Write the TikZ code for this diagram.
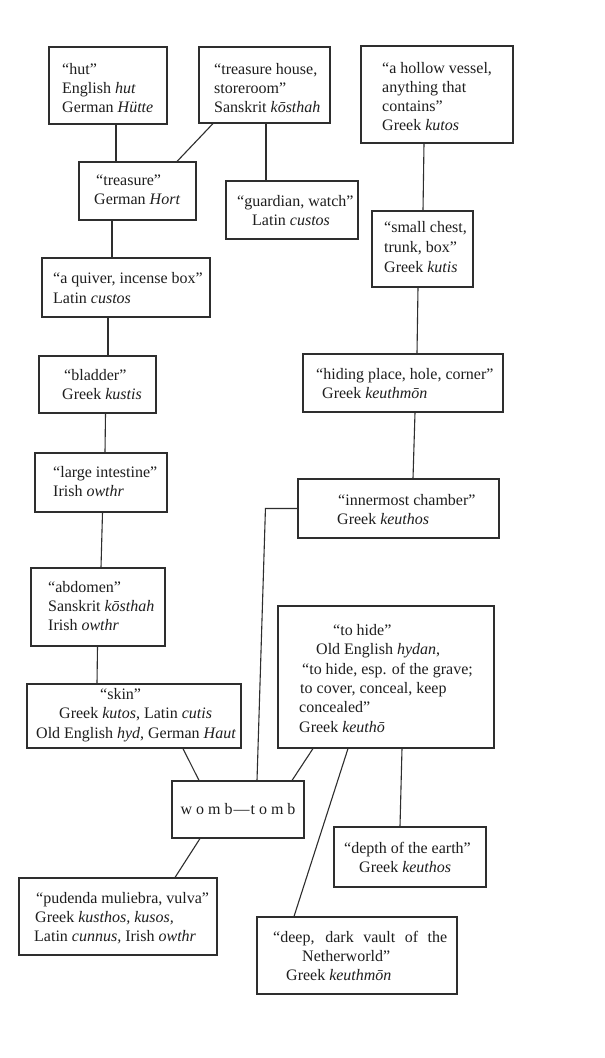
\documentclass[tikz,border=0pt]{standalone}
\usepackage{fontspec}
\setmainfont{Liberation Serif}
\definecolor{ink}{HTML}{1E1E1E}
\definecolor{linec}{HTML}{2E2E2E}
\begin{document}
\begin{tikzpicture}[x=1pt,y=-1pt]
\tikzset{
 box/.style={draw=linec,line width=1.1pt,inner sep=0pt},
 txt/.style={anchor=north west,inner sep=0pt,align=left,text=ink,font=\fontsize{16}{19}\selectfont},
 link/.style={draw=linec,line width=1.1pt}
}
\fill[white] (0,0) rectangle (605,1058);
\useasboundingbox (0,0) rectangle (605,1058);

% boxes
\node[box,minimum width=118pt,minimum height=77pt] (hut) at (108,85.5) {};
\node[box,minimum width=131pt,minimum height=76pt] (house) at (264.5,85) {};
\node[box,minimum width=152pt,minimum height=97pt] (vessel) at (437,94.5) {};
\node[box,minimum width=117pt,minimum height=58pt] (hort) at (137.5,191) {};
\node[box,minimum width=132pt,minimum height=58pt] (guard) at (292,210) {};
\node[box,minimum width=101pt,minimum height=76pt] (chest) at (422.5,249) {};
\node[box,minimum width=168pt,minimum height=59pt] (quiver) at (126,287.5) {};
\node[box,minimum width=117pt,minimum height=57pt] (bladder) at (97.5,384.5) {};
\node[box,minimum width=200pt,minimum height=58pt] (hiding) at (403,383) {};
\node[box,minimum width=132pt,minimum height=59pt] (intest) at (101,482.5) {};
\node[box,minimum width=201pt,minimum height=59pt] (inner) at (398.5,508.5) {};
\node[box,minimum width=134pt,minimum height=78pt] (abdomen) at (98,607) {};
\node[box,minimum width=216pt,minimum height=142pt] (tohide) at (386,677) {};
\node[box,minimum width=214pt,minimum height=64pt] (skin) at (134,716) {};
\node[box,minimum width=132pt,minimum height=57pt,text=ink,font=\fontsize{16}{19}\selectfont] (womb) at (238,809.5)
  {w\hspace{4pt}o\hspace{4pt}m\hspace{4pt}b\hspace{1pt}—\hspace{1pt}t\hspace{4pt}o\hspace{4pt}m\hspace{4pt}b};
\node[box,minimum width=152pt,minimum height=60pt] (depth) at (410,857) {};
\node[box,minimum width=198pt,minimum height=77pt] (pudenda) at (118,916.5) {};
\node[box,minimum width=200pt,minimum height=77pt] (vault) at (357,955.5) {};

% texts
\node[txt] (thut) at (62,63) {“hut”\\English \textit{hut}\\German \textit{Hütte}};
\node[txt] (thouse) at (214,63) {“treasure house,\\storeroom”\\Sanskrit \textit{kōsthah}};
\node[txt] (tvessel) at (382,62) {“a hollow vessel,\\anything that\\contains”\\Greek \textit{kutos}};
\node[txt] (thort) at (94,175) {\hspace*{2pt}“treasure”\\German \textit{Hort}};
\node[txt] (tguard) at (237,195) {“guardian, watch”\\\hspace*{15pt}Latin \textit{custos}};
\node[txt,font=\fontsize{16}{20}\selectfont] (tchest) at (384,221) {“small chest,\\trunk, box”\\Greek \textit{kutis}};
\node[txt,font=\fontsize{16}{20}\selectfont] (tquiver) at (53,272) {“a quiver, incense box”\\Latin \textit{custos}};
\node[txt] (tbladder) at (62,369) {\hspace*{2pt}“bladder”\\Greek \textit{kustis}};
\node[txt] (thiding) at (316,368) {“hiding place, hole, corner”\\\hspace*{6pt}Greek \textit{keuthmōn}};
\node[txt] (tintest) at (53,466) {“large intestine”\\Irish \textit{owthr}};
\node[txt] (tinner) at (337,494) {\hspace*{1pt}“innermost chamber”\\Greek \textit{keuthos}};
\node[txt] (tabdomen) at (48,581) {“abdomen”\\Sanskrit \textit{kōsthah}\\Irish \textit{owthr}};
\node[txt,font=\fontsize{16}{19.4}\selectfont] (ttohide) at (299,624)
  {\hspace*{34pt}“to hide”\\\hspace*{17pt}Old English \textit{hydan},\\\hspace*{3pt}“to hide, esp. of the grave;\\\hspace*{1pt}to cover, conceal, keep\\concealed”\\Greek \textit{keuthō}};
\node[txt,font=\fontsize{16}{19.5}\selectfont] (tskin) at (36,688)
  {\hspace*{64pt}“skin”\\\hspace*{23pt}Greek \textit{kutos}, Latin \textit{cutis}\\Old English \textit{hyd}, German \textit{Haut}};
\node[txt] (tdepth) at (344,842) {“depth of the earth”\\\hspace*{15pt}Greek \textit{keuthos}};
\node[txt] (tpudenda) at (34,892) {\hspace*{2pt}“pudenda muliebra, vulva”\\\hspace*{1pt}Greek \textit{kusthos, kusos,}\\Latin \textit{cunnus,} Irish \textit{owthr}};
\node[txt] (tvault) at (273,931) {\makebox[174pt][s]{“deep, dark vault of the}\\\hspace*{29pt}Netherworld”\\\hspace*{13pt}Greek \textit{keuthmōn}};

% connectors
\draw[link] ([xshift=8pt]hut.south) -- ([xshift=-21.5pt]hort.north);
\draw[link] ([xshift=-51.5pt]house.south) -- ([xshift=39.5pt]hort.north);
\draw[link] ([xshift=1.5pt]house.south) -- ([xshift=-26pt]guard.north);
\draw[link] ([xshift=-13pt]vessel.south) -- ([xshift=0.5pt]chest.north);
\draw[link] ([xshift=-25.5pt]hort.south) -- ([xshift=-14pt]quiver.north);
\draw[link] ([xshift=-18pt]quiver.south) -- ([xshift=10.5pt]bladder.north);
\draw[link] ([xshift=-4.5pt]chest.south) -- ([xshift=14pt]hiding.north);
\draw[link] ([xshift=8pt]bladder.south) -- ([xshift=4pt]intest.north);
\draw[link] ([xshift=12pt]hiding.south) -- ([xshift=14.5pt]inner.north);
\draw[link] ([xshift=1.5pt]intest.south) -- ([xshift=3pt]abdomen.north);
\draw[link] ([xshift=-0.5pt]abdomen.south) -- ([xshift=-37pt]skin.north);
\draw[link] (inner.west) -- ++(-32pt,0) -- ([xshift=19pt]womb.north);
\draw[link] ([xshift=49pt]skin.south) -- ([xshift=-39pt]womb.north);
\draw[link] ([xshift=-73pt]tohide.south) -- ([xshift=54pt]womb.north);
\draw[link] ([xshift=-38pt]womb.south) -- ([xshift=57pt]pudenda.north);
\draw[link] ([xshift=-38pt]tohide.south) -- ([xshift=-63pt]vault.north);
\draw[link] ([xshift=16pt]tohide.south) -- ([xshift=-10pt]depth.north);
\end{tikzpicture}
\end{document}
